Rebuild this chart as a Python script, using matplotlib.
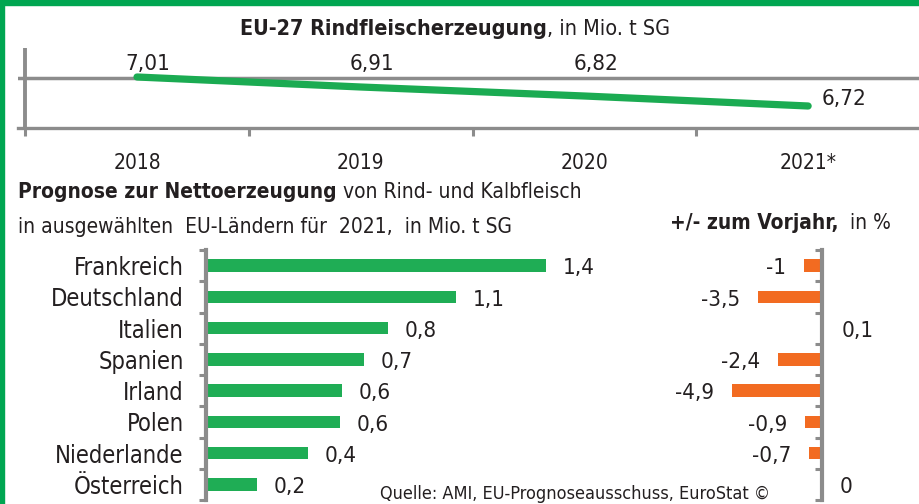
import matplotlib
matplotlib.use("Agg")
import matplotlib.pyplot as plt
from matplotlib import font_manager
from matplotlib.patches import Rectangle
from matplotlib.ticker import FixedLocator

# ---------------- data ----------------
years = ["2018", "2019", "2020", "2021*"]
eu_production = [7.01, 6.91, 6.82, 6.72]

countries = ["Frankreich", "Deutschland", "Italien", "Spanien", "Irland",
             "Polen", "Niederlande", "Österreich"]
net_production = [1.40, 1.03, 0.75, 0.65, 0.56, 0.55, 0.42, 0.21]
net_labels = ["1,4", "1,1", "0,8", "0,7", "0,6", "0,6", "0,4", "0,2"]
change_pct = [-1, -3.5, 0.1, -2.4, -4.9, -0.9, -0.7, 0]

# ---------------- style ----------------
names = {f.name for f in font_manager.fontManager.ttflist}
if "Liberation Sans Narrow" in names:
    FAM = ["Liberation Sans Narrow", "DejaVu Sans"]
    STRETCH = "normal"
else:
    FAM = ["DejaVu Sans"]
    STRETCH = "condensed"
plt.rcParams["font.family"] = FAM
plt.rcParams["font.stretch"] = STRETCH

TXT = "#231f20"
GRAY = "#8c8c8c"
LINE_GREEN = "#1bab52"
BAR_GREEN = "#1fad55"
ORANGE = "#f26b21"
BORDER = "#00a651"

W, H = 920, 504
fig = plt.figure(figsize=(W / 100, H / 100), dpi=100)
fig.patch.set_facecolor("white")


def fx(x):
    return x / W


def fy(y):
    return 1 - y / H


def box(x0, y0, x1, y1):
    return [fx(x0), fy(y1), (x1 - x0) / W, (y1 - y0) / H]


# background axes for free text
bg = fig.add_axes([0, 0, 1, 1])
bg.set_xlim(0, 1)
bg.set_ylim(0, 1)
bg.axis("off")

# green border (top + left)
fig.patches.append(Rectangle((0, fy(5)), 1, 5 / H, transform=fig.transFigure,
                             color=BORDER, zorder=10))
fig.patches.append(Rectangle((0, 0), 4 / W, 1, transform=fig.transFigure,
                             color=BORDER, zorder=10))


def two_part(x, y, bold, normal, size):
    t1 = bg.text(fx(x), fy(y), bold, fontsize=size, fontweight="bold",
                 color=TXT, ha="left", va="baseline")
    bg.annotate(normal, xy=(1, 0), xycoords=t1, fontsize=size, color=TXT,
                ha="left", va="bottom")


# ---------------- top line chart ----------------
ax1 = fig.add_axes(box(18, 48, 920, 128))
ax1.set_facecolor("none")
xs = list(range(len(years)))
ax1.set_xlim(-0.532, 3.50)
ax1.set_ylim(6.5, 7.3)
ax1.axhline(7.0, color=GRAY, lw=2.5, zorder=1)
ax1.axvline(-0.5, color=GRAY, lw=2.8, zorder=1)
for s in ["top", "right", "left"]:
    ax1.spines[s].set_visible(False)
ax1.spines["bottom"].set_color(GRAY)
ax1.spines["bottom"].set_linewidth(2.4)
ax1.plot(xs, eu_production, color=LINE_GREEN, lw=5.2,
         solid_capstyle="round", zorder=3)
ax1.set_yticks([])
ax1.set_xticks(xs)
ax1.set_xticklabels(years, fontsize=15, color=TXT)
ax1.xaxis.set_minor_locator(FixedLocator([-0.5, 0.5, 1.5, 2.5]))
ax1.tick_params(axis="x", which="major", length=0, pad=18)
ax1.tick_params(axis="x", which="minor", length=6, width=2.2, color=GRAY,
                direction="out")
for i, v in enumerate(eu_production):
    lab = f"{v:.2f}".replace(".", ",")
    if i < len(eu_production) - 1:
        ax1.annotate(lab, xy=(i, 7.14), xytext=(8, 0),
                     textcoords="offset points", ha="center", va="center",
                     fontsize=16, color=TXT)
    else:
        ax1.annotate(lab, xy=(i, v), xytext=(10, 5),
                     textcoords="offset points", ha="left", va="center",
                     fontsize=16, color=TXT)

two_part(240, 35, "EU-27 Rindfleischerzeugung", ", in Mio. t SG", 15.5)

# ---------------- subtitle texts ----------------
two_part(18, 198, "Prognose zur Nettoerzeugung", " von Rind- und Kalbfleisch", 15)
bg.text(fx(18), fy(233), "in ausgewählten  EU-Ländern für  2021,  in Mio. t SG",
        fontsize=15, color=TXT, ha="left", va="baseline")
two_part(670, 229, "+/- zum Vorjahr,", "  in %", 15)

# ---------------- left bar chart ----------------
ypos = list(range(len(countries)))
ax2 = fig.add_axes(box(206, 250, 600, 500))
ax2.set_facecolor("none")
ax2.set_xlim(0, 394 / 243)
ax2.set_ylim(len(countries) - 0.5, -0.5)
ax2.barh(ypos, net_production, height=0.4, color=BAR_GREEN, zorder=2)
for s in ["top", "right", "bottom"]:
    ax2.spines[s].set_visible(False)
ax2.spines["left"].set_color(GRAY)
ax2.spines["left"].set_linewidth(3)
ax2.spines["left"].set_zorder(3)
ax2.set_xticks([])
ax2.set_yticks(ypos)
ax2.set_yticklabels(countries, fontsize=17, color=TXT)
ax2.yaxis.set_minor_locator(FixedLocator([i - 0.5 for i in range(len(countries) + 1)]))
ax2.tick_params(axis="y", which="major", length=0, pad=16)
ax2.tick_params(axis="y", which="minor", length=5, width=2.2, color=GRAY,
                direction="out")
for i, (v, lab) in enumerate(zip(net_production, net_labels)):
    ax2.annotate(lab, xy=(v, i), xytext=(12, -2), textcoords="offset points",
                 ha="left", va="center", fontsize=16, color=TXT)

# ---------------- right bar chart ----------------
ax3 = fig.add_axes(box(700, 250, 905, 500))
ax3.set_facecolor("none")
ax3.set_xlim(-122 / 18.35, 83 / 18.35)
ax3.set_ylim(len(countries) - 0.5, -0.5)
ax3.barh(ypos, change_pct, height=0.4, color=ORANGE, zorder=2)
for s in ["top", "right", "bottom"]:
    ax3.spines[s].set_visible(False)
ax3.spines["left"].set_position(("data", 0))
ax3.spines["left"].set_color(GRAY)
ax3.spines["left"].set_linewidth(3)
ax3.spines["left"].set_zorder(3)
ax3.set_xticks([])
ax3.set_yticks([])
ax3.yaxis.set_minor_locator(FixedLocator([i - 0.5 for i in range(len(countries) + 1)]))
ax3.tick_params(axis="y", which="minor", length=5, width=2.2, color=GRAY,
                direction="out")
for i, v in enumerate(change_pct):
    lab = f"{v:g}".replace(".", ",")
    if v < 0:
        ax3.annotate(lab, xy=(v, i), xytext=(-13, -2), textcoords="offset points",
                     ha="right", va="center", fontsize=16, color=TXT)
    else:
        ax3.annotate(lab, xy=(v, i), xytext=(13, -2), textcoords="offset points",
                     ha="left", va="center", fontsize=16, color=TXT)

# ---------------- source ----------------
bg.text(fx(380), fy(499), "Quelle: AMI, EU-Prognoseausschuss, EuroStat ©",
        fontsize=13, color=TXT, ha="left", va="baseline", zorder=5)

fig.savefig("out.png", dpi=100)
